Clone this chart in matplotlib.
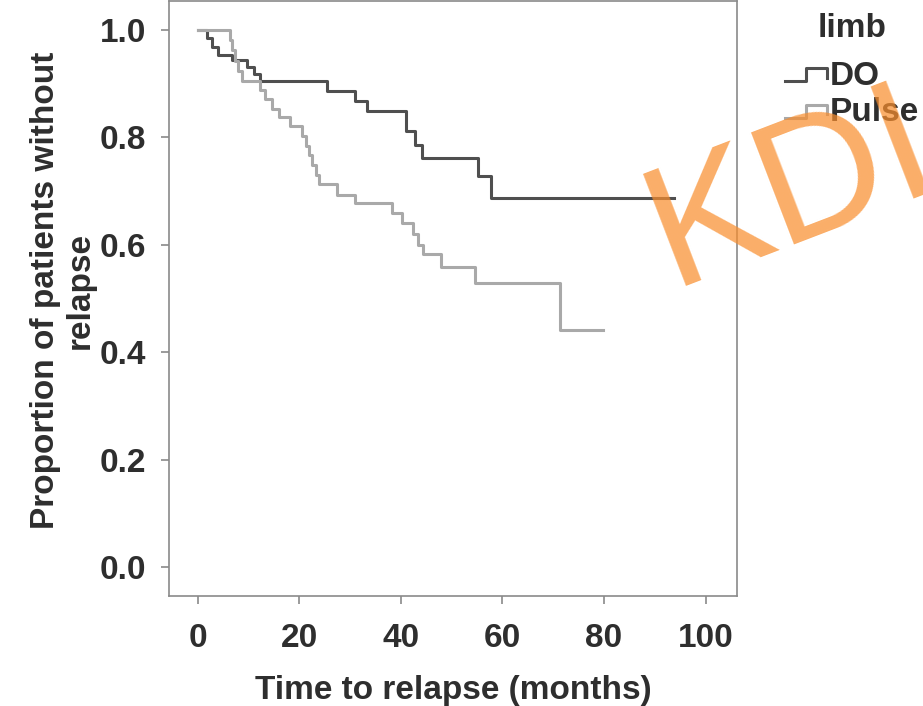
import numpy as np
import matplotlib
matplotlib.use("Agg")
import matplotlib.pyplot as plt
from matplotlib.lines import Line2D
from matplotlib.legend_handler import HandlerBase

# Kaplan-Meier steps (months, proportion without relapse)
do_t = [0, 1.8, 2.8, 4.0, 6.7, 9.8, 11.0, 12.3, 25.4, 31.0, 33.3, 41.1, 42.8, 44.1, 55.2, 57.8, 93.8]
do_s = [1.0, 0.984, 0.968, 0.953, 0.943, 0.930, 0.917, 0.904, 0.885, 0.867, 0.848, 0.811, 0.786, 0.762,
        0.727, 0.687, 0.687]

pulse_t = [0, 6.4, 6.7, 7.3, 8.0, 8.7, 12.3, 13.3, 14.6, 16.0, 18.2, 20.5, 21.3, 22.0, 22.6, 23.2, 23.8,
           27.4, 31.0, 38.2, 40.2, 42.4, 43.4, 44.4, 48.0, 54.6, 71.3, 79.8]
pulse_s = [1.0, 0.981, 0.962, 0.942, 0.923, 0.904, 0.887, 0.870, 0.853, 0.837, 0.820, 0.802, 0.784,
           0.766, 0.748, 0.730, 0.712, 0.693, 0.678, 0.659, 0.641, 0.619, 0.600, 0.582, 0.559, 0.529,
           0.441, 0.441]

groups = ["DO", "Pulse"]
x_ticks = [0, 20, 40, 60, 80, 100]
y_ticks = [0.0, 0.2, 0.4, 0.6, 0.8, 1.0]

plt.rcParams["font.family"] = ["Liberation Sans", "DejaVu Sans"]
plt.rcParams["font.weight"] = "bold"

FS = 24
W, H = 923, 706
fig = plt.figure(figsize=(W / 100, H / 100), dpi=100)
ax = fig.add_axes([169.3 / W, 1 - 596 / H, (737 - 169.3) / W, (596 - 1) / H])

ax.step(do_t, do_s, where="post", color="#4f4f4f", lw=2.2, label=groups[0])
ax.step(pulse_t, pulse_s, where="post", color="#a9a9a9", lw=2.2, label=groups[1])

ax.set_xlim(-5.6, 106.2)
ax.set_ylim(-0.053, 1.053)
ax.set_xticks(x_ticks)
ax.set_xticklabels([str(v) for v in x_ticks])
ax.set_yticks(y_ticks)
ax.set_yticklabels([f"{v:.1f}" for v in y_ticks])

for sp in ax.spines.values():
    sp.set_color("#8a8a8a")
    sp.set_linewidth(1.2)
ax.tick_params(axis="both", colors="#8a8a8a", length=5.5, width=1.2,
               labelsize=FS, labelcolor="#2e2e2e")
ax.tick_params(axis="x", pad=14)
ax.tick_params(axis="y", pad=11)

ax.set_xlabel("Time to relapse (months)", fontsize=FS, fontweight="bold",
              color="#2e2e2e", labelpad=15)
ax.set_ylabel("Proportion of patients without\nrelapse", fontsize=FS,
              fontweight="bold", color="#2e2e2e", linespacing=1.15)
ax.yaxis.set_label_coords(-0.13, 0.514)


class StepHandler(HandlerBase):
    # small step glyph like the SPSS survival legend
    def create_artists(self, legend, orig_handle, xdescent, ydescent,
                       width, height, fontsize, trans):
        xs = np.array([0, 0.5, 0.5, 1.0, 1.0]) * width - xdescent
        ys = np.array([0.15, 0.15, 0.7, 0.7, 0.3]) * height - ydescent
        ln = Line2D(xs, ys, color=orig_handle.get_color(),
                    lw=orig_handle.get_linewidth())
        ln.set_transform(trans)
        return [ln]


handles, labels = ax.get_legend_handles_labels()
leg = ax.legend(handles, labels, loc="upper left",
                bbox_to_anchor=(785 / W, 1 - 13 / H), bbox_transform=fig.transFigure,
                frameon=False, title="limb", fontsize=FS, borderpad=0, borderaxespad=0,
                handlelength=1.25, handletextpad=0.1, labelspacing=0.17,
                handler_map={Line2D: StepHandler()})
leg.get_title().set_fontsize(FS)
leg.get_title().set_fontweight("bold")
for t in leg.get_texts():
    t.set_color("#2e2e2e")
leg.get_title().set_color("#2e2e2e")
leg._legend_box.align = "center"
leg._legend_box.sep = 12

# watermark seen over the figure
fig.text(672 / W, 1 - 286 / H, "KDI", rotation=21, rotation_mode="anchor",
         ha="left", va="baseline", fontsize=126, fontweight="normal",
         color="#f98e2e", alpha=0.72, family="Liberation Sans")

fig.savefig("out.png", dpi=100, facecolor="white")
